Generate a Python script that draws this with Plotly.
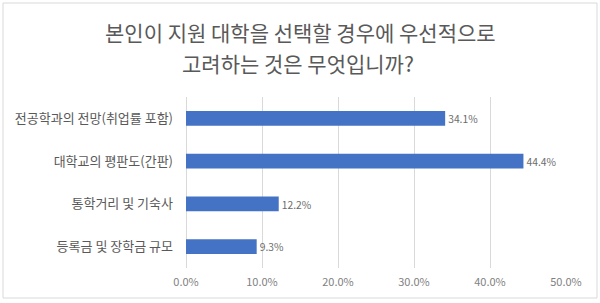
import plotly.graph_objects as go

categories = ["전공학과의 전망(취업률 포함)", "대학교의 평판도(간판)", "통학거리 및 기숙사", "등록금 및 장학금 규모"]
values = [34.1, 44.4, 12.2, 9.3]
title_lines = ["본인이 지원 대학을 선택할 경우에 우선적으로", "고려하는 것은 무엇입니까?"]

FONT = "Noto Sans CJK KR"

fig = go.Figure(go.Bar(
    x=values, y=categories, orientation="h",
    marker=dict(color="#4472C4", line=dict(width=0)),
    text=[f"{v:.1f}%" for v in values], textposition="outside",
    textfont=dict(family=FONT, size=11, color="#6b6b6b"),
    cliponaxis=False,
))

L, R, T, B = 186, 34, 97, 35
W, H = 600, 303
pw, ph = W - L - R, H - T - B

def px(x):
    return (x - L) / pw

def py(y):
    return (H - B - y) / ph

fig.update_layout(
    width=W, height=H,
    margin=dict(l=L, r=R, t=T, b=B),
    paper_bgcolor="white", plot_bgcolor="white",
    font=dict(family=FONT, color="#595959"),
    showlegend=False,
    bargap=0.65,
    xaxis=dict(range=[0, 50], dtick=10, tickformat=".1f", ticksuffix="%",
               showgrid=True, gridcolor="#d9d9d9", gridwidth=1,
               zeroline=True, zerolinecolor="#d9d9d9", zerolinewidth=1,
               showline=False, ticks="", ticklabelstandoff=6,
               tickfont=dict(family=FONT, size=11, color="#7f7f7f"), fixedrange=True),
    yaxis=dict(autorange="reversed", showgrid=False, zeroline=False, showline=False,
               ticks="", ticklabelstandoff=12,
               tickfont=dict(family=FONT, size=13, color="#595959"), fixedrange=True),
    annotations=[
        dict(text=title_lines[0], xref="paper", yref="paper", x=px(300), y=py(32),
             xanchor="center", yanchor="middle", showarrow=False,
             font=dict(family=FONT, size=21, color="#595959")),
        dict(text=title_lines[1], xref="paper", yref="paper", x=px(298), y=py(63),
             xanchor="center", yanchor="middle", showarrow=False,
             font=dict(family=FONT, size=21, color="#595959")),
    ],
    shapes=[dict(type="rect", xref="paper", yref="paper",
                 x0=px(3), x1=px(597), y0=py(298), y1=py(3),
                 line=dict(color="#d9d9d9", width=1), layer="below")],
)

fig.write_html("out.html")
